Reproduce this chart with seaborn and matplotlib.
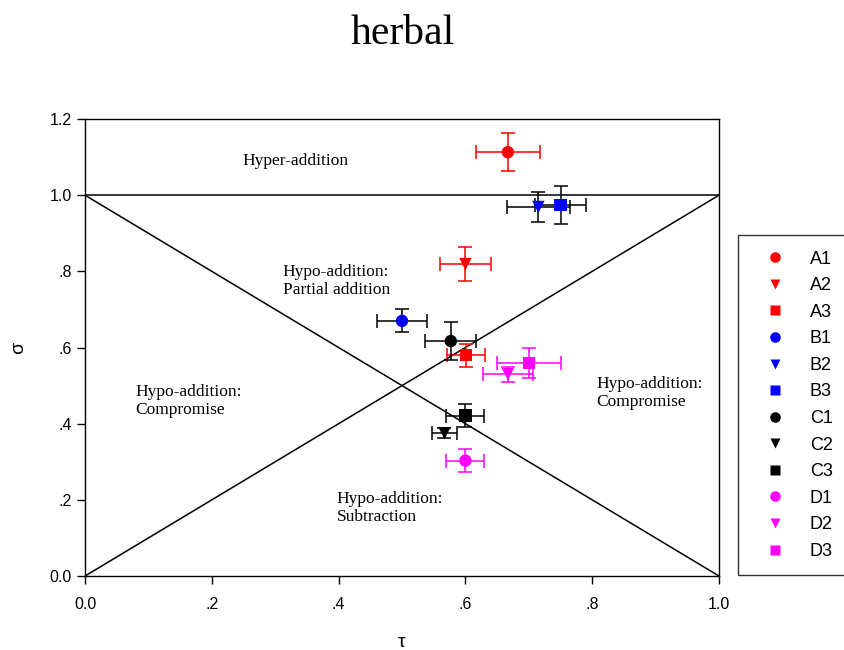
import matplotlib
matplotlib.use("Agg")
import matplotlib.pyplot as plt
import seaborn as sns
import pandas as pd

# Treatment groups and their (tau, sigma) estimates with standard errors
labels = ["A1", "A2", "A3", "B1", "B2", "B3", "C1", "C2", "C3", "D1", "D2", "D3"]
tau = [0.667, 0.60, 0.601, 0.50, 0.715, 0.75, 0.577, 0.567, 0.60, 0.60, 0.667, 0.70]
sigma = [1.113, 0.819, 0.58, 0.67, 0.969, 0.974, 0.617, 0.375, 0.421, 0.303, 0.53, 0.559]
tau_err = [0.05, 0.04, 0.03, 0.04, 0.05, 0.04, 0.04, 0.02, 0.03, 0.03, 0.04, 0.05]
sigma_err = [0.05, 0.045, 0.03, 0.03, 0.04, 0.05, 0.05, 0.013, 0.03, 0.03, 0.02, 0.04]

marker_colors = {"A": "#ff0000", "B": "#0000ff", "C": "#000000", "D": "#ff00ff"}
bar_colors = {"A": "#ff0000", "B": "#000000", "C": "#000000", "D": "#ff00ff"}
shapes = {"1": "o", "2": "v", "3": "s"}

df = pd.DataFrame({"label": labels, "tau": tau, "sigma": sigma,
                   "tau_err": tau_err, "sigma_err": sigma_err})

sns.set_theme(style="ticks")
plt.rcParams["font.family"] = ["Liberation Sans", "DejaVu Sans"]
plt.rcParams["text.color"] = "black"
plt.rcParams["axes.labelcolor"] = "black"

fig = plt.figure(figsize=(8.45, 6.5), dpi=100)
ax = fig.add_axes([0.1006, 0.1138, 0.7503, 0.7031])

# Reference lines dividing the interaction regions
ax.plot([0, 1], [0, 1], color="black", lw=1.1, zorder=1)
ax.plot([0, 1], [1, 0], color="black", lw=1.1, zorder=1)
ax.axhline(1.0, color="black", lw=1.1, zorder=1)

# Error bars
for _, r in df.iterrows():
    ax.errorbar(r["tau"], r["sigma"], xerr=r["tau_err"], yerr=r["sigma_err"],
                fmt="none", ecolor=bar_colors[r["label"][0]], elinewidth=1.3,
                capsize=5, capthick=1.3, zorder=2, alpha=0.85)

# Points
palette = {lab: marker_colors[lab[0]] for lab in labels}
markers = {lab: shapes[lab[1]] for lab in labels}
sns.scatterplot(data=df, x="tau", y="sigma", hue="label", style="label",
                palette=palette, markers=markers, hue_order=labels,
                style_order=labels, s=80, edgecolor="none", ax=ax, zorder=3,
                legend=True)

ax.set_xlim(0, 1.0)
ax.set_ylim(0, 1.2)
ax.set_xticks([0, 0.2, 0.4, 0.6, 0.8, 1.0])
ax.set_xticklabels(["0.0", ".2", ".4", ".6", ".8", "1.0"])
ax.set_yticks([0, 0.2, 0.4, 0.6, 0.8, 1.0, 1.2])
ax.set_yticklabels(["0.0", ".2", ".4", ".6", ".8", "1.0", "1.2"])
ax.tick_params(direction="out", length=6, width=1, labelsize=11.5, colors="black")
ax.tick_params(axis="x", pad=9)
for sp in ax.spines.values():
    sp.set_visible(True)
    sp.set_color("black")
    sp.set_linewidth(1.0)

ax.set_xlabel("τ", fontsize=14, labelpad=16)
ax.set_ylabel("σ", fontsize=14, labelpad=16)

# Region annotations
serif = ["Liberation Serif", "DejaVu Serif"]
txt = dict(fontsize=12.5, family=serif, ha="left", va="center", linespacing=1.15)
ax.text(0.249, 1.09, "Hyper-addition", **txt)
ax.text(0.312, 0.775, "Hypo-addition:\nPartial addition", **txt)
ax.text(0.08, 0.46, "Hypo-addition:\nCompromise", **txt)
ax.text(0.806, 0.48, "Hypo-addition:\nCompromise", **txt)
ax.text(0.397, 0.178, "Hypo-addition:\nSubtraction", **txt)

fig.text(0.477, 0.948, "herbal", fontsize=30, family=serif, ha="center", va="center")

# Legend outside the axes on the right
handles, leg_labels = ax.get_legend_handles_labels()
ax.get_legend().remove()
leg = fig.legend(handles, leg_labels, loc="upper left",
                 bbox_to_anchor=(0.873, 0.638), frameon=True, fancybox=False,
                 fontsize=13, labelspacing=0.53, handletextpad=0.75,
                 borderpad=0.85, handlelength=2.4, borderaxespad=0,
                 markerscale=0.85)
leg.get_frame().set_edgecolor("black")
leg.get_frame().set_linewidth(1.0)

fig.savefig("out.png", dpi=100)
